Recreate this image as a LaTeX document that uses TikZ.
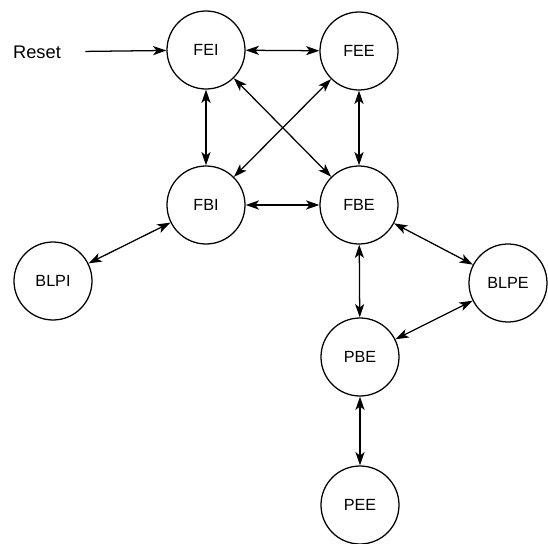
\documentclass[tikz,border=0pt]{standalone}
\usepackage{fontspec}
\setmainfont{Liberation Sans}
\usetikzlibrary{arrows.meta}
\begin{document}
\begin{tikzpicture}[font=\fontsize{11.5}{13}\selectfont, line join=round, line width=0.9pt, >={Stealth[length=9.5pt,width=6.5pt,inset=2.5pt]},
	state/.style={circle,draw,minimum size=1.95cm,inner sep=0pt}]
			\useasboundingbox (0,0) rectangle (13.7,-13.6);
			\foreach \p/\x/\y in {FEI/5.15/-1.25,FEE/8.975/-1.275,FBI/5.15/-5.125,FBE/8.975/-5.125,BLPI/1.325/-7.025,BLPE/12.7/-7.075,PBE/9/-8.925,PEE/9/-12.625}
				\node[state] (\p) at (\x,\y) {\p};
			\node[font=\fontsize{13}{15}\selectfont] (reset) at (0.925,-1.3) {Reset};
			\draw[->,shorten <=0.48cm] (reset)--(FEI);
			\foreach \a/\b in {FEI/FEE,FEI/FBI,FEI/FBE,FEE/FBI,FEE/FBE,FBI/FBE,FBI/BLPI,FBE/BLPE,FBE/PBE,BLPE/PBE,PBE/PEE}
				\draw[<->] (\a)--(\b);
	\end{tikzpicture}
\end{document}
